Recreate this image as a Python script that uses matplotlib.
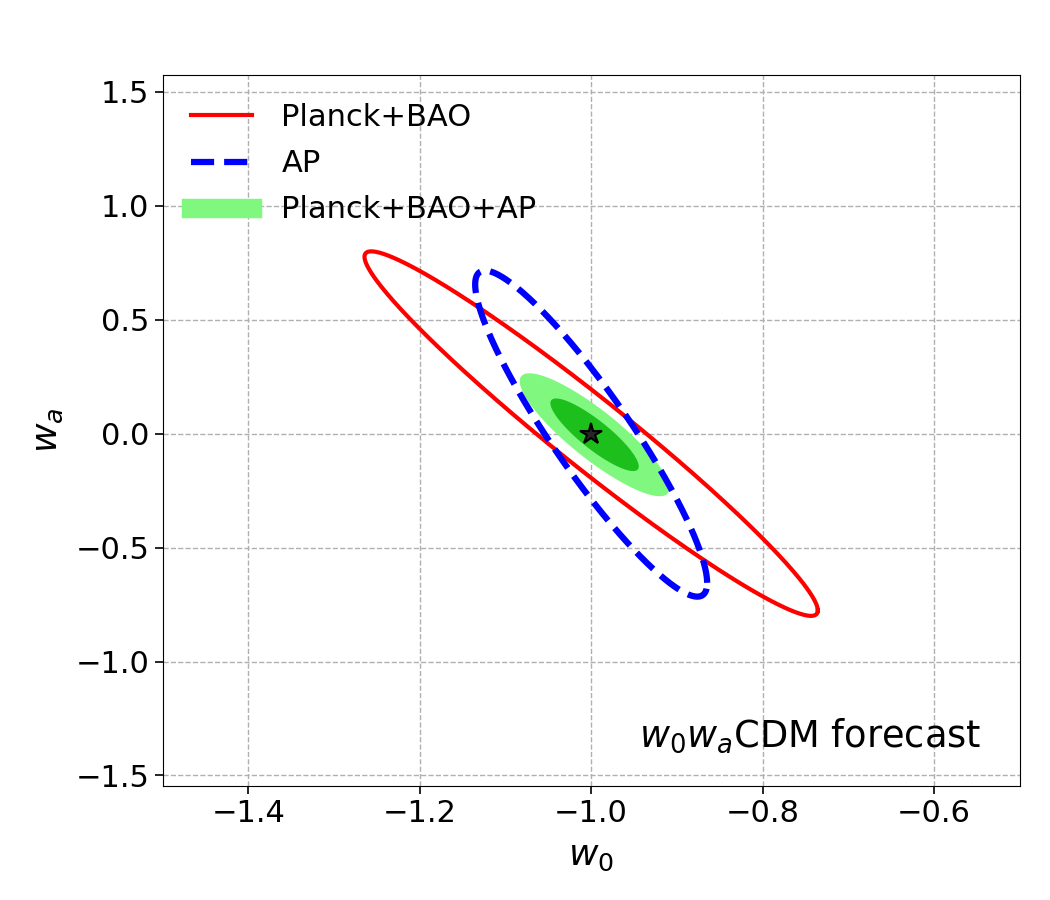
import numpy as np
import matplotlib.pyplot as plt
from matplotlib.lines import Line2D

# fiducial model
w0_fid, wa_fid = -1.0, 0.0

# marginal errors and correlation
# (sigma_w0, sigma_wa, rho)
planck_bao = (0.1065, 0.322, -0.970)
ap = (0.0545, 0.288, -0.915)
combined = (0.0340, 0.105, -0.870)
# the combined contours sit a touch off the fiducial point
combined_center = (-0.996, -0.005)

# delta chi^2 levels for the contours
dchi2_1sig = 2.30
dchi2_2sig = 6.17
dchi2_outer_comb = 6.6


def ellipse(pars, dchi2, center=(w0_fid, wa_fid), n=400):
    sx, sy, rho = pars
    cov = np.array([[sx**2, rho*sx*sy], [rho*sx*sy, sy**2]])
    L = np.linalg.cholesky(cov)
    t = np.linspace(0, 2*np.pi, n)
    circ = np.vstack([np.cos(t), np.sin(t)]) * np.sqrt(dchi2)
    pts = L @ circ
    return pts[0] + center[0], pts[1] + center[1]


fig = plt.figure(figsize=(10.5, 9), dpi=100)
ax = fig.add_axes([0.155, 0.127, 0.816, 0.790])

light_green = '#80f880'
dark_green = '#1cbf1c'

x, y = ellipse(combined, dchi2_outer_comb, combined_center)
ax.fill(x, y, color=light_green, lw=0, zorder=2)
x, y = ellipse(combined, dchi2_1sig, combined_center)
ax.fill(x, y, color=dark_green, lw=0, zorder=3)

x, y = ellipse(planck_bao, dchi2_2sig)
ax.plot(x, y, color='red', lw=3, zorder=4)
x, y = ellipse(ap, dchi2_2sig)
ax.plot(x, y, color='blue', lw=4.5, ls='--', zorder=5)

ax.plot([w0_fid], [wa_fid], marker='*', ms=16, mfc='0.15', mec='k', mew=1.5, zorder=6)

ax.set_xlim(-1.5, -0.5)
ax.set_ylim(-1.545, 1.575)
ax.set_xticks([-1.4, -1.2, -1.0, -0.8, -0.6])
ax.set_yticks([-1.5, -1.0, -0.5, 0.0, 0.5, 1.0, 1.5])
ax.tick_params(labelsize=22, length=6, width=1.2)
ax.grid(True, ls='--', color='#b0b0b0', lw=1)
ax.set_axisbelow(True)

ax.set_xlabel(r'$w_0$', fontsize=26, labelpad=8)
ax.set_ylabel(r'$w_a$', fontsize=26, labelpad=8)

handles = [Line2D([], [], color='red', lw=3),
           Line2D([], [], color='blue', lw=4.5, ls='--'),
           Line2D([], [], color=light_green, lw=14)]
ax.legend(handles, ['Planck+BAO', 'AP', 'Planck+BAO+AP'], loc='upper left',
          frameon=False, fontsize=22, handlelength=2.0, handletextpad=0.95,
          labelspacing=0.56, borderaxespad=0.53)

ax.text(0.955, 0.07, r'$w_0w_a$CDM forecast', transform=ax.transAxes,
        ha='right', va='center', fontsize=26.5)

fig.savefig('out.png', dpi=100)
